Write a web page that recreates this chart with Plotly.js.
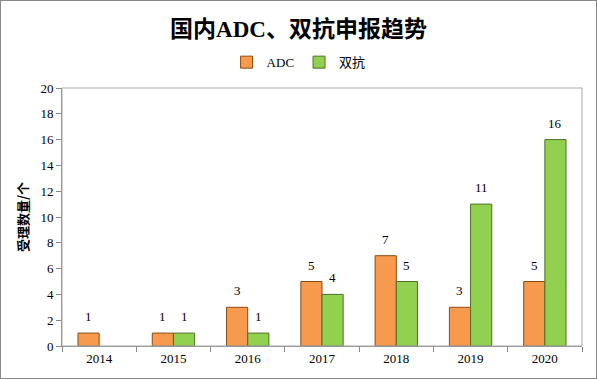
<!DOCTYPE html>
<html><head><meta charset="utf-8">
<script src="https://cdn.plot.ly/plotly-3.0.1.min.js"></script>
<style>html,body{margin:0;padding:0;background:#fff;}#chart{width:597px;height:379px;box-sizing:border-box;border:1px solid #888;}</style>
</head><body><div id="chart"></div>
<script>
const years = ['2014','2015','2016','2017','2018','2019','2020'];
const adc = [1,1,3,5,7,3,5];
const bispecific = [null,1,1,4,5,11,16];
const seriesNames = ['ADC','双抗'];
const yTicks = [0,2,4,6,8,10,12,14,16,18,20];
const serif = '"Liberation Serif","Times New Roman","Noto Sans CJK SC",serif';
function bar(name, vals, fill, line){
  return {type:'bar', name:name, x:years, y:vals,
    marker:{color:fill, line:{color:line, width:1}}, hoverinfo:'none'};
}
const data = [bar(seriesNames[0], adc, '#F79A4E', '#8A4A12'), bar(seriesNames[1], bispecific, '#92D050', '#4F6F28')];
const bargap = 0.43;
const half = (1-bargap)/4;
const annotations = [];
[adc, bispecific].forEach((vals, s)=>{
  vals.forEach((v,i)=>{
    if(v==null) return;
    annotations.push({x:i + (s===0?-half:half), y:v, xref:'x', yref:'y', text:String(v), showarrow:false,
      yanchor:'bottom', yshift:7, font:{family:serif, size:13, color:'#000'}});
  });
});
const layout = {
  width:595, height:377, margin:{l:61, r:14, t:87, b:32},
  paper_bgcolor:'#fff', plot_bgcolor:'#fff',
  title:{text:'<b>国内ADC、双抗申报趋势</b>', x:0.5, xanchor:'center', y:0.925, yanchor:'middle',
    font:{family:serif, size:23, color:'#000'}},
  showlegend:true,
  legend:{orientation:'h', x:0.455, xanchor:'center', y:1.1, yanchor:'middle', font:{family:serif, size:13, color:'#000'}, itemwidth:30, tracegroupgap:0},
  barmode:'group', bargap:bargap, bargroupgap:0,
  annotations:annotations,
  xaxis:{type:'category', range:[-0.5,6.5], showline:true, linecolor:'#888', linewidth:1, mirror:false, ticks:'outside', ticklen:5, tickcolor:'#888',
    tickson:'boundaries', tickfont:{family:serif, size:13, color:'#000'}, showgrid:false},
  yaxis:{range:[0,20], tickvals:yTicks, ticks:'outside', ticklen:5, tickcolor:'#888', showline:true, linecolor:'#888', linewidth:1,
    showgrid:false, zeroline:false, tickfont:{family:serif, size:13, color:'#000'},
    title:{text:'<b>受理数量/个</b>', font:{family:'"Noto Sans CJK SC",sans-serif', size:13, color:'#000'}, standoff:8}},
  shapes:[{type:'rect', xref:'paper', yref:'paper', x0:0, x1:1, y0:0, y1:1, line:{color:'#aaa', width:1}}]
};
Plotly.newPlot('chart', data, layout, {displayModeBar:false, staticPlot:true});
</script></body></html>
